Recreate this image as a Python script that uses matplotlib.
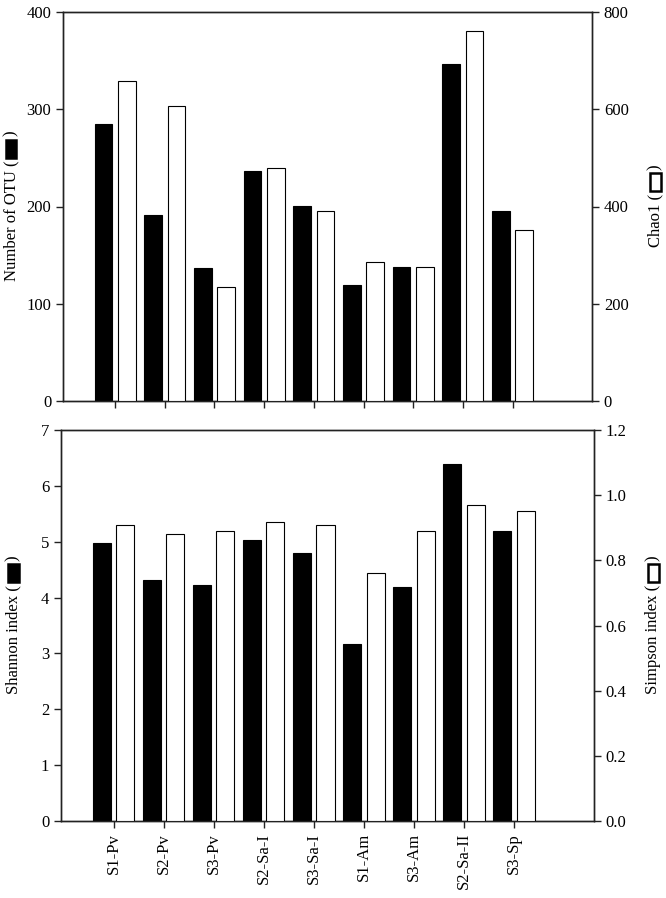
import numpy as np
import matplotlib
matplotlib.use("Agg")
import matplotlib.pyplot as plt
from matplotlib.patches import Rectangle

plt.rcParams['font.family'] = ['Liberation Serif', 'DejaVu Sans']

samples = ["S1-Pv", "S2-Pv", "S3-Pv", "S2-Sa-I", "S3-Sa-I", "S1-Am", "S3-Am", "S2-Sa-II", "S3-Sp"]
otu = [285, 191, 137, 237, 201, 119, 138, 347, 195]
chao1 = [658, 606, 234, 480, 390, 286, 276, 760, 352]
shannon = [4.97, 4.31, 4.22, 5.03, 4.79, 3.17, 4.19, 6.39, 5.19]
simpson = [0.909, 0.880, 0.890, 0.919, 0.909, 0.760, 0.890, 0.970, 0.950]

W, H = 666, 898
fig = plt.figure(figsize=(W / 100, H / 100), dpi=100)
renderer = fig.canvas.get_renderer()


def box(l, t, r, b):
    return [l / W, 1 - b / H, (r - l) / W, (b - t) / H]


x = np.arange(len(samples))
bw = 0.36
off = 0.235
FS = 12


def style(ax):
    for s in ax.spines.values():
        s.set_linewidth(1.0)
        s.set_color("#222222")
    ax.tick_params(direction="out", length=5, width=1.0, labelsize=FS, color="#222222")


def vlabel(xc, yc, text, filled):
    # rotated label with the bar symbol drawn as a patch: "text (" [box] ")"
    t1 = fig.text(xc / W, 0, text + " (", rotation=90, ha="center", va="bottom", fontsize=FS)
    t3 = fig.text(xc / W, 0, ")", rotation=90, ha="center", va="bottom", fontsize=FS)
    h1 = t1.get_window_extent(renderer).height
    h3 = t3.get_window_extent(renderer).height
    L, thick, g = 18, 11, 3
    total = h1 + g + L + g + h3
    y0 = (H - yc) - total / 2
    t1.set_y(y0 / H)
    rect_y = y0 + h1 + g
    fig.patches.append(Rectangle(((xc - thick / 2) / W, rect_y / H), thick / W, L / H,
                                 transform=fig.transFigure, facecolor="black" if filled else "white",
                                 edgecolor="black", linewidth=1.8))
    t3.set_y((rect_y + L + g) / H)


def panel(rect, left_vals, right_vals, lylim, rylim, lticks, rticks, rfmt, show_x):
    ax = fig.add_axes(rect)
    ax2 = ax.twinx()
    ax.bar(x - off, left_vals, bw, color="black", edgecolor="black", linewidth=0.8, zorder=3)
    ax2.bar(x + off, right_vals, bw, color="white", edgecolor="black", linewidth=0.8, zorder=3)
    ax.set_xlim(-1.05, 9.6)
    ax.set_ylim(*lylim)
    ax2.set_ylim(*rylim)
    ax.set_yticks(lticks)
    ax2.set_yticks(rticks)
    ax2.set_yticklabels([rfmt.format(v) for v in rticks])
    ax.set_xticks(x)
    if show_x:
        ax.set_xticklabels(samples, rotation=90)
    else:
        ax.set_xticklabels([])
    style(ax)
    style(ax2)
    return ax, ax2


panel(box(63, 12, 592, 401), otu, chao1, (0, 400), (0, 800),
      [0, 100, 200, 300, 400], [0, 200, 400, 600, 800], "{:.0f}", False)
vlabel(11, 206, "Number of OTU", True)
vlabel(655, 206, "Chao1", False)

panel(box(61, 430, 594, 821), shannon, simpson, (0, 7), (0, 1.2),
      [0, 1, 2, 3, 4, 5, 6, 7], [0, 0.2, 0.4, 0.6, 0.8, 1.0, 1.2], "{:.1f}", True)
vlabel(13, 625, "Shannon index", True)
vlabel(653, 625, "Simpson index", False)

fig.savefig("out.png", dpi=100)
